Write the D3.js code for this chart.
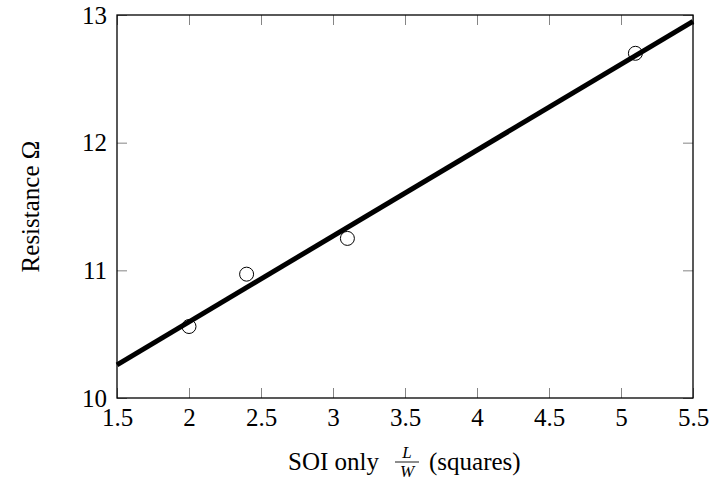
<!DOCTYPE html>
<meta charset="utf-8" />
<style>
    body { margin: 0; background: #fff; }
    text { font-family: "Liberation Serif", serif; fill: #000; }
</style>
<svg width="712" height="485"></svg>
<script src="https://d3js.org/d3.v7.min.js"></script>
<script>
    // measured data points
    var lengthRatio = [2, 2.4, 3.1, 5.1];
    var resistance = [10.56, 10.97, 11.25, 12.7];

    // fitted line, read at the plot edges
    var fitX = [1.5, 5.5];
    var fitY = [10.26, 12.95];

    var xTicks = [1.5, 2, 2.5, 3, 3.5, 4, 4.5, 5, 5.5];
    var yTicks = [10, 11, 12, 13];

    var svg = d3.select("svg");
    var margin = { left: 117, right: 19, top: 15, bottom: 87 };
    var width = +svg.attr("width");
    var height = +svg.attr("height");

    var x = d3.scaleLinear().domain([1.5, 5.5]).range([margin.left, width - margin.right]);
    var y = d3.scaleLinear().domain([10, 13]).range([height - margin.bottom, margin.top]);

    var tick = 10;
    var fs = 25;

    // axes (inward ticks on all sides)
    var gx = svg.append("g").attr("transform", "translate(0," + y(10) + ")")
        .call(d3.axisBottom(x).tickValues(xTicks).tickSize(-tick).tickPadding(10)
            .tickFormat(function (d) { return d; }));
    svg.append("g").attr("transform", "translate(0," + y(13) + ")")
        .call(d3.axisTop(x).tickValues(xTicks).tickSize(-tick).tickFormat(""));
    var gy = svg.append("g").attr("transform", "translate(" + x(1.5) + ",0)")
        .call(d3.axisLeft(y).tickValues(yTicks).tickSize(-tick).tickPadding(10)
            .tickFormat(function (d) { return d; }));
    svg.append("g").attr("transform", "translate(" + x(5.5) + ",0)")
        .call(d3.axisRight(y).tickValues(yTicks).tickSize(-tick).tickFormat(""));

    svg.selectAll(".domain").remove();
    svg.selectAll(".tick line").attr("stroke", "#666").attr("stroke-width", 0.8);
    svg.selectAll(".tick text").attr("font-size", fs)
        .style("font-family", "'Liberation Serif', serif");

    // fit line
    var lineData = fitX.map(function (d, i) { return [d, fitY[i]]; });
    svg.append("path")
        .datum(lineData)
        .attr("fill", "none")
        .attr("stroke", "#000")
        .attr("stroke-width", 5)
        .attr("d", d3.line()
            .x(function (d) { return x(d[0]); })
            .y(function (d) { return y(d[1]); }));

    // data markers
    svg.append("g")
        .selectAll("circle")
        .data(lengthRatio)
        .enter()
        .append("circle")
        .attr("cx", function (d) { return x(d); })
        .attr("cy", function (d, i) { return y(resistance[i]); })
        .attr("r", 7)
        .attr("fill", "none")
        .attr("stroke", "#000")
        .attr("stroke-width", 1);

    // frame
    svg.append("rect")
        .attr("x", x(1.5)).attr("y", y(13))
        .attr("width", x(5.5) - x(1.5)).attr("height", y(10) - y(13))
        .attr("fill", "none").attr("stroke", "#000").attr("stroke-width", 1.3);

    // x label with fraction L/W
    var xl = svg.append("g").attr("transform", "translate(0,470)");
    xl.append("text").attr("x", 379).attr("text-anchor", "end").attr("font-size", fs)
        .text("SOI only");
    xl.append("text").attr("x", 407).attr("y", -12).attr("text-anchor", "middle")
        .attr("font-size", 17).attr("font-style", "italic").text("L");
    xl.append("line").attr("x1", 395).attr("x2", 419).attr("y1", -8).attr("y2", -8)
        .attr("stroke", "#000").attr("stroke-width", 0.9);
    xl.append("text").attr("x", 407).attr("y", 7).attr("text-anchor", "middle")
        .attr("font-size", 17).attr("font-style", "italic").text("W");
    xl.append("text").attr("x", 429).attr("font-size", fs).text("(squares)");

    // y label
    svg.append("text")
        .attr("transform", "translate(39," + ((y(10) + y(13)) / 2) + ") rotate(-90)")
        .attr("text-anchor", "middle")
        .attr("font-size", fs)
        .text("Resistance Ω");
</script>
